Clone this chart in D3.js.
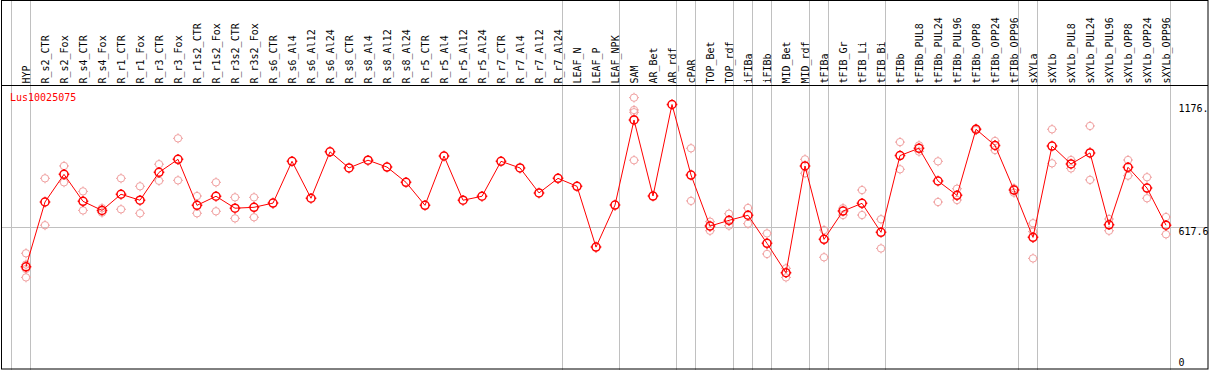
<!DOCTYPE html>
<html>
<head>
<meta charset="utf-8">
<script src="https://cdn.jsdelivr.net/npm/d3@7"></script>
<style>
  html, body { margin: 0; padding: 0; background: #fff; }
  svg { display: block; }
  text { font-family: "DejaVu Sans Mono", "Liberation Mono", monospace; font-size: 10px; }
</style>
</head>
<body>
<svg id="chart" width="1209" height="370"></svg>
<script>
const geneId = "Lus10025075";

const categories = [
  "HYP","R_s2_CTR","R_s2_Fox","R_s4_CTR","R_s4_Fox","R_r1_CTR","R_r1_Fox","R_r3_CTR","R_r3_Fox",
  "R_r1s2_CTR","R_r1s2_Fox","R_r3s2_CTR","R_r3s2_Fox","R_s6_CTR","R_s6_Al4","R_s6_Al12","R_s6_Al24",
  "R_s8_CTR","R_s8_Al4","R_s8_Al12","R_s8_Al24","R_r5_CTR","R_r5_Al4","R_r5_Al12","R_r5_Al24",
  "R_r7_CTR","R_r7_Al4","R_r7_Al12","R_r7_Al24","LEAF_N","LEAF_P","LEAF_NPK","SAM","AR_Bet","AR_rdf",
  "cPAR","TOP_Bet","TOP_rdf","iFIBa","iFIBb","MID_Bet","MID_rdf","tFIBa","tFIB_Gr","tFIB_Li","tFIB_Bi",
  "tFIBb","tFIBb_PUL8","tFIBb_PUL24","tFIBb_PUL96","tFIBb_OPP8","tFIBb_OPP24","tFIBb_OPP96",
  "sXYLa","sXYLb","sXYLb_PUL8","sXYLb_PUL24","sXYLb_PUL96","sXYLb_OPP8","sXYLb_OPP24","sXYLb_OPP96"
];

const meanValues = [
  442, 735, 860, 738, 697, 770, 743, 869, 928,
  720, 761, 707, 711, 730, 919, 752, 962,
  889, 924, 893, 824, 720, 943, 743, 761,
  919, 889, 776, 842, 806, 531, 721, 1106, 762, 1176,
  857, 626, 652, 675, 548, 415, 898, 566, 694, 729, 598,
  945, 978, 830, 765, 1064, 991, 789,
  575, 988, 907, 957, 632, 892, 798, 630
];

const replicateValues = [
  [503, 452, 432, 394], [842, 630], [898, 824], [783, 697], [707, 687], [842, 702], [806, 684], [906, 831], [1023, 833],
  [762, 684], [824, 693], [756, 661], [756, 666], [], [], [], [],
  [], [], [], [], [], [], [], [],
  [], [], [], [], [], [], [], [1207, 1151, 1141, 924], [], [],
  [978, 740], [646, 605], [682, 628], [708, 637], [593, 500], [435, 394], [928, 865], [608, 485], [707, 676], [789, 676], [657, 525],
  [1006, 883], [991, 963], [919, 735], [795, 744], [1068, 1060], [1011, 970], [797, 777],
  [639, 601, 480], [1064, 910], [925, 887], [1079, 835], [658, 605], [925, 854], [847, 752], [667, 589]
];

const groupStarts = ["HYP","R_s2_CTR","LEAF_N","SAM","cPAR","TOP_Bet","iFIBa","iFIBb","MID_Bet","tFIBa","tFIB_Gr","tFIBb","sXYLa","sXYLb"];

const yTickValues = [1176, 617.6, 0];
const yTickLabels = ["1176.", "617.6", "0"];
const gridValues = [617.6];

// ---- layout ----
const svg = d3.select("#chart");

const x = d3.scaleBand().domain(categories).range([11, 1170]).paddingInner(0).paddingOuter(0);
const px = c => x(c) + 15;
const y = d3.scaleLinear().domain([0, 1176]).range([364.5, 104.5]);

// horizontal grid
svg.append("g").selectAll("line").data(gridValues).join("line")
  .attr("x1", 1).attr("x2", 1208)
  .attr("y1", d => Math.round(y(d)) - 0.5).attr("y2", d => Math.round(y(d)) - 0.5)
  .attr("stroke", "#c0c0c0").attr("stroke-width", 1);

// vertical group separators
const sepX = groupStarts.map(c => x(c)).concat([x.range()[1]]);
svg.append("g").selectAll("line").data(sepX).join("line")
  .attr("x1", d => Math.round(d) + 0.5).attr("x2", d => Math.round(d) + 0.5)
  .attr("y1", 0).attr("y2", 370)
  .attr("stroke", "#c0c0c0").attr("stroke-width", 1);

// frame and header separator
svg.append("rect").attr("x", 1.5).attr("y", 0.5).attr("width", 1206.5).attr("height", 368.5)
  .attr("fill", "none").attr("stroke", "#000").attr("stroke-width", 1);
svg.append("line").attr("x1", 1).attr("x2", 1208).attr("y1", 85.5).attr("y2", 85.5)
  .attr("stroke", "#000").attr("stroke-width", 1);

// category labels (rotated)
svg.append("g").selectAll("text").data(categories).join("text")
  .attr("transform", d => `translate(${px(d) + 3.5},83.5) rotate(-90)`)
  .attr("text-anchor", "start")
  .attr("fill", "#000")
  .text(d => d);

// right axis labels
svg.append("g").selectAll("text").data(yTickValues).join("text")
  .attr("x", 1178.5)
  .attr("y", d => d === 0 ? y(d) + 1 : y(d) + 7.5)
  .attr("fill", "#000")
  .text((d, i) => yTickLabels[i]);

// gene id
svg.append("text").attr("x", 10).attr("y", 101).attr("fill", "#ff0000").text(geneId);

// marker path: circle plus 4 small ticks
function markerPath(r, t) {
  const p = d3.path();
  p.moveTo(r, 0); p.arc(0, 0, r, 0, 2 * Math.PI);
  p.moveTo(0, -r); p.lineTo(0, -r - t);
  p.moveTo(0, r); p.lineTo(0, r + t);
  p.moveTo(-r, 0); p.lineTo(-r - t, 0);
  p.moveTo(r, 0); p.lineTo(r + t, 0);
  return p.toString();
}

// replicate markers
const reps = [];
categories.forEach((c, i) => replicateValues[i].forEach(v => reps.push({c, v})));
svg.append("g").selectAll("path").data(reps).join("path")
  .attr("transform", d => `translate(${px(d.c)},${y(d.v)})`)
  .attr("d", markerPath(3.7, 1.3))
  .attr("fill", "none").attr("stroke", "#f0a0a0").attr("stroke-width", 1);

// mean line
const line = d3.line().x((d, i) => px(categories[i])).y(d => y(d));
svg.append("path").datum(meanValues).attr("d", line)
  .attr("fill", "none").attr("stroke", "#ff0000").attr("stroke-width", 1);

// mean markers
svg.append("g").selectAll("path").data(meanValues).join("path")
  .attr("transform", (d, i) => `translate(${px(categories[i])},${y(d)})`)
  .attr("d", markerPath(4, 1.3))
  .attr("fill", "none").attr("stroke", "#ff0000").attr("stroke-width", 1.5);
</script>
</body>
</html>
